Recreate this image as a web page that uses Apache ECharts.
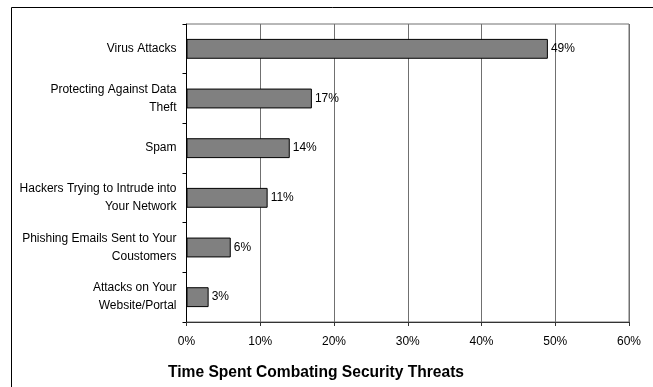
<!DOCTYPE html>
<html>
<head>
<meta charset="utf-8">
<script src="https://cdn.jsdelivr.net/npm/echarts@6/dist/echarts.min.js"></script>
<style>
  html, body { margin: 0; padding: 0; background: #fff; }
  #chart { width: 653px; height: 387px; }
</style>
</head>
<body>
<div id="chart"></div>
<script>
// categories, top to bottom
var categories = [
    'Virus Attacks',
    'Protecting Against Data\nTheft',
    'Spam',
    'Hackers Trying to Intrude into\nYour Network',
    'Phishing Emails Sent to Your\nCoustomers',
    'Attacks on Your\nWebsite/Portal'
];
var values = [49, 17, 14, 11, 6, 3];
var chartTitle = 'Time Spent Combating Security Threats';

var myChart = echarts.init(document.getElementById('chart'));
var font = 'Liberation Sans, Arial, sans-serif';

var option = {
    animation: false,
    backgroundColor: '#fff',
    title: {
        text: chartTitle,
        left: 311,
        textAlign: 'center',
        top: 360,
        textStyle: { fontFamily: font, fontSize: 15.6, fontWeight: 'bold', color: '#000' }
    },
    graphic: [{
        type: 'rect',
        shape: { x: 11.5, y: 7.5, width: 700, height: 420 },
        style: { fill: null, stroke: '#000', lineWidth: 1 },
        silent: true
    }],
    grid: {
        left: 186.5,
        right: 24,
        top: 24,
        bottom: 65,
        show: true,
        borderColor: '#707070',
        borderWidth: 1
    },
    xAxis: {
        type: 'value',
        min: 0,
        max: 60,
        interval: 10,
        axisLine: { show: true, lineStyle: { color: '#333', width: 1 } },
        axisTick: { show: true, length: 4, lineStyle: { color: '#333' } },
        splitLine: { show: true, lineStyle: { color: '#707070', width: 1 } },
        axisLabel: {
            formatter: '{value}%',
            margin: 14,
            fontFamily: font,
            fontSize: 12,
            color: '#000'
        }
    },
    yAxis: {
        type: 'category',
        data: categories,
        inverse: true,
        axisLine: { show: true, lineStyle: { color: '#000', width: 1 } },
        axisTick: { show: true, length: 4, lineStyle: { color: '#000' } },
        axisLabel: {
            margin: 10,
            fontFamily: font,
            fontSize: 12,
            lineHeight: 18,
            color: '#000',
            align: 'right'
        }
    },
    series: [{
        type: 'bar',
        data: values,
        barWidth: '40%',
        itemStyle: { color: '#808080', borderColor: '#000', borderWidth: 1 },
        label: {
            show: true,
            position: 'right',
            distance: 3,
            formatter: '{c}%',
            fontFamily: font,
            fontSize: 12,
            color: '#000'
        }
    }]
};

myChart.setOption(option);
</script>
</body>
</html>
